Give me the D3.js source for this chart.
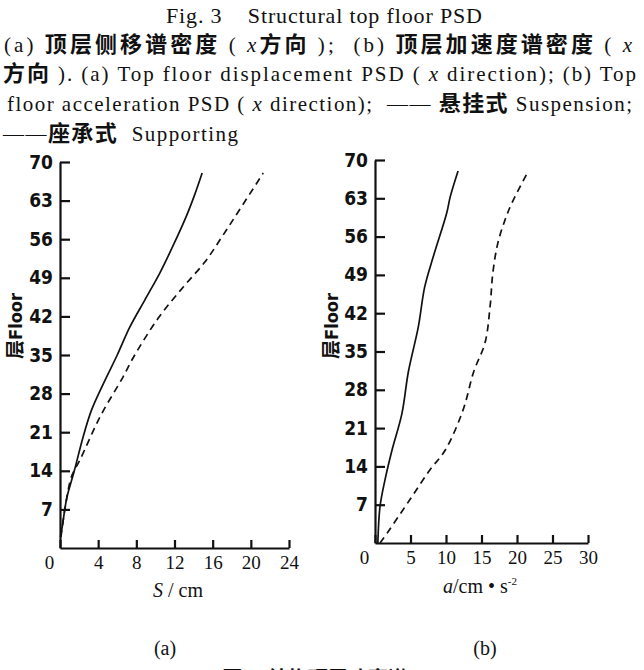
<!DOCTYPE html>
<html>
<head>
<meta charset="utf-8">
<script src="https://cdn.jsdelivr.net/npm/d3@7/dist/d3.min.js"></script>
<style>
  html, body { margin: 0; padding: 0; background: #fff; }
  svg { display: block; }
  .serif { font-family: "Liberation Serif", "DejaVu Serif", serif; }
  .cjk { font-family: "Noto Sans CJK SC", sans-serif; font-weight: 700; }
</style>
</head>
<body>
<svg id="chart" width="644" height="670"></svg>
<script>
// Floor tick labels shared by both panels
const floorTicks = [7, 14, 21, 28, 35, 42, 49, 56, 63, 70];
const dispTicks = [0, 4, 8, 12, 16, 20, 24];
const accTicks = [0, 5, 10, 15, 20, 25, 30];

// (a) top floor displacement PSD, supporting structure (solid)
const dispSupportFloor = [2, 4, 9, 14, 20, 25, 30, 35, 40, 45, 50, 55, 60, 64, 68];
const dispSupportS     = [0.05, 0.25, 0.7, 1.5, 2.4, 3.3, 4.6, 6.0, 7.3, 8.9, 10.5, 11.9, 13.2, 14.1, 14.9];

// (a) top floor displacement PSD, suspension structure (dashed)
const dispSuspFloor = [2, 6.9, 12.9, 16, 23.8, 31, 34.6, 41.7, 47.3, 51.9, 56.5, 61.3, 68];
const dispSuspS     = [0.1, 0.5, 1.2, 2.1, 4.2, 6.6, 7.7, 10.3, 12.9, 15.2, 17.0, 18.8, 21.3];

// (b) top floor acceleration PSD, supporting structure (solid)
const accSupportFloor = [0, 6.6, 11.5, 17, 23.7, 31.3, 39.5, 46.8, 52.3, 60.3, 63.3, 68];
const accSupportA     = [0.4, 0.7, 1.4, 2.4, 3.8, 4.7, 6.1, 7.0, 8.2, 10.1, 10.6, 11.7];

// (b) top floor acceleration PSD, suspension structure (dashed)
const accSuspFloor = [0, 1.8, 7.9, 13.3, 17, 24.3, 31.3, 36.6, 43.1, 49.4, 54.8, 59, 62.2, 67.5];
const accSuspA     = [0.7, 1.7, 4.9, 7.7, 9.9, 12.4, 13.9, 15.5, 16.2, 16.6, 17.3, 18.3, 19.3, 21.4];

const svg = d3.select("#chart");
const narrowBold = "'DejaVu Sans Condensed', 'DejaVu Sans', sans-serif";

// ---- caption block at the top ----
function captionLine(parts, x, y, len, size) {
  const t = svg.append("text")
    .attr("x", x).attr("y", y)
    .attr("textLength", len)
    .attr("lengthAdjust", "spacing")
    .style("white-space", "pre")
    .attr("fill", "#111");
  parts.forEach(p => {
    const s = t.append("tspan").text(p.t)
      .attr("class", p.c ? "cjk" : "serif")
      .attr("font-size", p.c ? size + 1 : size);
    if (p.i) s.attr("font-style", "italic");
  });
  return t;
}

captionLine([{t: "Fig. 3    Structural top floor PSD"}], 166, 23, 316, 22);
captionLine([
  {t: "(a) "}, {t: "顶层侧移谱密度", c: 1}, {t: " ( "}, {t: "x", i: 1}, {t: "方向", c: 1},
  {t: " );  (b) "}, {t: "顶层加速度谱密度", c: 1}, {t: " ( "}, {t: "x", i: 1}
], 4, 52, 628, 21);
captionLine([
  {t: "方向", c: 1}, {t: " ). (a) Top floor displacement PSD ( "}, {t: "x", i: 1},
  {t: " direction); (b) Top"}
], 3, 81, 633, 21);
captionLine([
  {t: "floor acceleration PSD ( "}, {t: "x", i: 1}, {t: " direction);  —— "},
  {t: "悬挂式", c: 1}, {t: " Suspension;"}
], 7, 111, 625, 21);
captionLine([
  {t: "——"}, {t: "座承式", c: 1}, {t: "  Supporting"}
], 3, 141, 235, 21);

// ---- panel drawing ----
function panel(opt) {
  const x = d3.scaleLinear().domain(opt.xDomain).range(opt.xRange);
  const y = d3.scaleLinear().domain([0, 70]).range(opt.yRange);
  const g = svg.append("g");

  const yAxis = d3.axisLeft(y).tickValues(floorTicks).tickSize(-10).tickSizeOuter(0).tickPadding(7);
  const gy = g.append("g").attr("transform", `translate(${opt.xRange[0]},0)`).call(yAxis);
  gy.selectAll("text")
    .attr("font-family", narrowBold)
    .attr("font-weight", 700).attr("font-size", 19).attr("fill", "#111");

  const xAxis = d3.axisBottom(x).tickValues(opt.xTicks).tickSize(-8).tickSizeOuter(0).tickPadding(8);
  const gx = g.append("g").attr("transform", `translate(0,${opt.yRange[0]})`).call(xAxis);
  gx.selectAll("text")
    .attr("font-family", "'Liberation Serif', serif")
    .attr("font-size", 19).attr("fill", "#111");
  // the shared origin label sits left of the corner
  gx.selectAll(".tick").filter(d => d === 0).select("text").attr("x", -11);

  [gx, gy].forEach(a => {
    a.select(".domain").attr("stroke", "#111").attr("stroke-width", 2.2);
    a.selectAll(".tick line").attr("stroke", "#111").attr("stroke-width", 2.2);
  });

  const line = d3.line().curve(d3.curveCatmullRom.alpha(0.5));
  opt.series.forEach(s => {
    const pts = s.floor.map((f, i) => [x(s.val[i]), y(f)]);
    g.append("path")
      .attr("d", line(pts))
      .attr("fill", "none")
      .attr("stroke", "#111")
      .attr("stroke-width", 1.7)
      .attr("stroke-dasharray", s.dashed ? "7,5" : null);
  });

  // vertical axis title
  const yt = g.append("text")
    .attr("transform", `translate(${opt.yTitleX},${opt.yTitleY}) rotate(-90)`)
    .attr("text-anchor", "middle")
    .attr("fill", "#111");
  yt.append("tspan").attr("class", "cjk").attr("font-size", 19).attr("font-weight", 500).text("层");
  yt.append("tspan").attr("font-family", narrowBold)
    .attr("font-weight", 700).attr("font-size", 18).text("Floor");

  return g;
}

panel({
  xDomain: [0, 24], xRange: [60, 289], yRange: [548, 162], xTicks: dispTicks,
  yTitleX: 22, yTitleY: 326,
  series: [
    {floor: dispSupportFloor, val: dispSupportS, dashed: false},
    {floor: dispSuspFloor, val: dispSuspS, dashed: true}
  ]
});

panel({
  xDomain: [0, 30], xRange: [375, 588], yRange: [543, 160], xTicks: accTicks,
  yTitleX: 338, yTitleY: 326,
  series: [
    {floor: accSupportFloor, val: accSupportA, dashed: false},
    {floor: accSuspFloor, val: accSuspA, dashed: true}
  ]
});

// x-axis titles
const xt1 = svg.append("text").attr("x", 178).attr("y", 597).attr("text-anchor", "middle")
  .attr("font-size", 20).attr("fill", "#111").attr("class", "serif");
xt1.append("tspan").attr("font-style", "italic").text("S");
xt1.append("tspan").text(" / cm");

const xt2 = svg.append("text").attr("x", 480).attr("y", 593).attr("text-anchor", "middle")
  .attr("fill", "#111").attr("class", "serif").attr("font-size", 20);
xt2.append("tspan").attr("font-style", "italic").text("a");
xt2.append("tspan").text("/cm • s");
xt2.append("tspan").attr("font-size", 11).attr("dy", -8).text("-2");

// panel captions
svg.append("text").attr("class", "serif").attr("x", 165).attr("y", 655)
  .attr("text-anchor", "middle").attr("font-size", 20).attr("fill", "#111").text("(a)");
svg.append("text").attr("class", "serif").attr("x", 485).attr("y", 655)
  .attr("text-anchor", "middle").attr("font-size", 20).attr("fill", "#111").text("(b)");

// figure title below the panels (runs past the bottom edge)
svg.append("text").attr("x", 315).attr("y", 686).attr("text-anchor", "middle")
  .attr("font-size", 20).attr("fill", "#111").attr("class", "cjk")
  .style("white-space", "pre").text("图 3  结构顶层功率谱");
</script>
</body>
</html>
